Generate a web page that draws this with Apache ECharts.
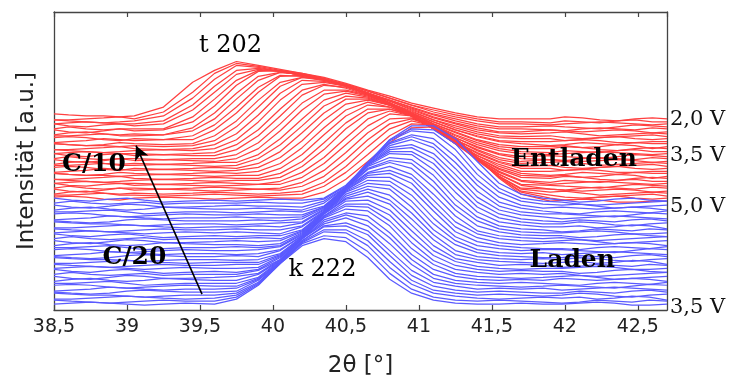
<!DOCTYPE html>
<html>
<head>
<meta charset="utf-8">
<script src="https://cdn.jsdelivr.net/npm/echarts@6/dist/echarts.min.js"></script>
<style>
  html, body { margin: 0; padding: 0; background: #ffffff; }
  #chart { width: 731px; height: 383px; }
</style>
</head>
<body>
<div id="chart"></div>
<script>
// 2θ sampling positions of the in-situ scans
const ladenX = [38.5, 38.62, 38.75, 38.88, 39.0, 39.12, 39.25, 39.4,
                39.6, 39.75, 39.9, 40.05, 40.2, 40.35, 40.5, 40.65, 40.8, 40.95, 41.1, 41.25, 41.4, 41.55, 41.7, 41.85,
                41.98, 42.1, 42.22, 42.34, 42.46, 42.58, 42.7];
const entladenX = [38.5, 38.6, 38.72, 38.84, 38.95,
                   39.05, 39.25, 39.45, 39.6, 39.75, 39.9, 40.05, 40.2, 40.35, 40.5, 40.65, 40.8, 40.95, 41.1, 41.25, 41.4, 41.55, 41.7,
                   41.9, 42.0, 42.12, 42.24, 42.36, 42.48, 42.6, 42.7];

// Charge (Laden, C/20): 3,5 V -> 5,0 V, waterfall intensities, first scan at the bottom
const ladenScans = [
  [6,7,8,7,6,5,6,7, 6,11,25,47,65,72,69,53,31,17,10,7,6,6,7,6, 6,7,8,7,5,5,6],
  [10,9,8,7,8,9,10,9, 9,13,26,47,67,75,73,59,37,21,13,10,9,10,9,8, 7,8,10,9,8,10,9],
  [11,11,12,13,14,13,12,11, 12,15,27,48,68,79,78,65,43,26,17,14,12,11,12,13, 12,13,11,12,14,13,10],
  [17,16,15,15,14,13,14,15, 15,17,28,48,69,81,81,70,49,30,20,17,15,16,15,14, 15,17,16,14,13,15,16],
  [18,17,16,17,19,20,19,18, 18,19,30,48,70,84,85,76,55,35,24,20,18,19,18,17, 17,19,18,17,19,20,18],
  [19,20,21,23,22,21,20,21, 21,22,31,48,70,85,88,80,60,40,28,24,21,22,21,22, 20,21,22,23,22,21,20],
  [25,26,25,23,22,23,24,25, 24,24,32,49,72,87,93,85,67,46,32,27,25,24,23,24, 25,24,23,22,24,26,25],
  [27,27,28,29,27,25,26,27, 27,27,33,50,72,89,96,90,73,51,36,30,28,27,28,27, 26,25,27,28,27,26,28],
  [29,31,32,30,29,30,32,31, 30,30,36,50,72,91,98,95,78,56,41,34,31,30,31,30, 32,31,30,31,32,31,29],
  [34,32,31,33,35,34,32,32, 33,34,37,51,73,93,102,100,85,62,46,37,34,33,32,33, 34,35,33,31,32,33,34],
  [36,38,36,35,36,37,35,36, 36,36,40,51,73,94,105,104,90,68,50,41,38,36,37,36, 37,35,34,35,36,37,38],
  [41,39,38,40,41,39,37,38, 39,38,41,53,73,95,107,107,96,74,55,45,41,39,40,39, 39,37,38,40,41,39,38],
  [42,43,44,43,42,41,42,43, 42,42,43,54,73,95,110,111,101,80,60,49,44,42,41,42, 42,43,44,43,41,41,42],
  [46,45,44,43,44,45,46,45, 45,46,46,55,73,97,112,115,107,86,65,52,48,45,46,45, 43,44,46,45,44,46,45],
  [47,47,48,49,50,49,48,47, 48,48,48,56,74,97,113,119,111,92,71,56,51,49,48,47, 48,49,47,48,50,49,46],
  [53,52,51,51,50,49,50,51, 51,50,51,57,74,98,115,122,116,98,76,60,54,52,51,52, 51,53,52,50,49,51,52],
  [54,53,52,53,55,56,55,54, 54,55,54,60,75,98,117,125,122,104,81,66,58,55,54,53, 53,55,54,53,55,56,54],
  [55,56,57,59,58,57,56,57, 57,56,57,61,75,98,119,128,126,110,87,70,61,58,57,58, 56,57,58,59,58,57,56],
  [61,62,61,59,58,59,60,61, 60,60,61,64,76,98,120,131,130,116,93,74,65,62,60,61, 61,60,59,58,60,62,61],
  [63,63,64,65,63,61,62,63, 63,64,63,65,77,98,121,134,134,122,100,79,69,65,63,62, 62,61,63,64,63,62,64],
  [65,67,68,66,65,66,68,67, 66,66,65,67,78,98,121,136,138,128,105,84,73,68,66,67, 68,67,66,67,68,67,65],
  [70,68,67,69,71,70,68,68, 69,70,69,70,79,98,122,138,141,133,111,89,77,72,70,69, 70,71,69,67,68,69,70],
  [72,74,72,71,72,73,71,72, 72,72,73,72,80,99,123,139,145,137,117,95,80,75,73,72, 73,71,70,71,72,73,74],
  [77,75,74,76,77,75,73,74, 75,74,75,75,81,99,123,142,149,143,124,101,85,79,76,75, 75,73,74,76,77,75,74],
  [78,79,80,79,78,77,78,79, 78,79,78,77,84,99,123,143,151,148,130,106,90,82,79,78, 78,79,80,79,77,77,78],
  [82,81,80,79,80,81,82,81, 81,82,81,81,85,100,123,145,154,152,136,112,94,85,82,81, 79,80,82,81,80,82,81],
  [83,83,84,85,86,85,84,83, 84,84,85,84,88,101,123,146,158,157,142,119,99,89,86,84, 84,85,83,84,86,85,82],
  [89,88,87,87,86,85,86,87, 87,86,87,88,89,102,123,147,160,160,148,125,104,93,89,87, 87,89,88,86,85,87,88],
  [90,89,88,89,91,92,91,90, 90,90,91,90,92,103,123,147,162,164,153,131,109,97,92,90, 89,91,90,89,91,92,90],
  [91,92,93,95,94,93,92,93, 93,94,93,93,94,104,123,148,164,167,158,137,114,101,96,94, 92,93,94,95,94,93,92],
  [97,98,97,95,94,95,96,97, 96,96,97,96,96,104,124,149,166,172,164,143,120,105,99,97, 97,96,95,94,96,98,97],
  [99,99,100,101,99,97,98,99, 99,98,99,100,99,105,124,149,168,175,168,149,126,109,103,100, 98,97,99,100,99,98,100],
  [101,103,104,102,101,102,104,103, 102,102,103,102,101,108,124,148,169,177,173,155,131,114,106,103, 104,103,102,103,104,103,101],
  [106,104,103,105,107,106,104,104, 105,106,105,105,104,110,124,149,171,181,179,162,137,119,110,107, 106,107,105,103,104,105,106],
  [108,110,108,107,108,109,107,108, 108,108,109,108,108,112,125,148,172,183,182,168,143,123,113,110, 109,107,106,107,108,109,110],
  [113,111,110,112,113,111,109,110, 111,110,111,112,111,113,126,148,172,186,186,173,150,128,117,113, 111,109,110,112,113,111,110]
];

// Discharge (Entladen, C/10): 5,0 V -> 2,0 V, continuing the stack upwards
const entladenScans = [
  [114,115,114,112,111, 113,114,113,112,113,114,113,113,119,132,150,169,184,185,174,154,133,117, 110,111,112,111,109,109,110,110],
  [116,116,117,118,116, 116,115,116,117,116,115,116,117,125,139,157,176,188,187,174,154,134,119, 113,111,112,114,115,113,112,113],
  [117,119,120,118,117, 118,117,118,119,118,117,118,120,129,145,165,183,191,186,172,153,134,120, 116,114,113,114,115,116,117,115],
  [122,120,119,121,123, 121,122,121,120,121,122,121,125,135,152,172,188,193,186,171,152,135,122, 119,120,118,116,117,118,119,118],
  [123,125,123,122,123, 123,122,123,124,123,122,123,129,141,159,179,193,194,185,170,151,135,123, 122,121,120,121,122,121,119,120],
  [128,126,125,127,128, 126,127,126,125,126,127,127,134,148,167,186,198,196,186,170,152,137,126, 122,121,123,124,123,122,124,123],
  [128,129,130,129,128, 128,127,128,129,128,127,130,139,154,174,193,201,196,185,168,152,137,127, 126,125,124,123,125,127,126,125],
  [132,131,130,129,130, 131,132,131,130,131,131,134,145,162,183,199,203,197,185,169,153,139,130, 127,128,129,130,129,128,127,128],
  [132,132,133,134,135, 133,132,133,134,133,133,138,150,169,189,203,203,196,183,168,153,140,131, 129,131,130,129,131,132,130,130],
  [138,137,136,136,135, 136,137,136,135,136,136,143,157,177,196,207,205,196,183,168,154,142,134, 133,135,134,132,131,133,134,133],
  [138,137,136,137,139, 138,137,138,139,138,140,148,164,184,202,210,205,196,183,168,154,143,136, 135,136,134,135,137,136,133,135],
  [139,140,141,143,142, 141,142,141,140,141,144,154,171,192,208,212,207,197,183,169,156,145,138, 136,137,139,138,137,139,138,138],
  [144,145,144,142,141, 143,142,143,144,143,148,160,179,199,213,213,207,196,183,169,156,147,140, 140,141,142,141,139,139,140,140],
  [146,146,147,148,146, 146,147,146,145,146,153,167,186,206,216,214,207,196,183,170,158,149,143, 143,141,142,144,145,143,142,143],
  [147,149,150,148,147, 148,147,148,149,149,157,173,193,212,219,215,207,196,183,170,159,150,145, 146,144,143,144,145,146,147,145],
  [152,150,149,151,153, 151,152,151,150,153,163,181,202,218,221,216,208,197,184,172,161,152,148, 149,150,148,146,147,148,149,148],
  [153,155,153,152,153, 153,152,153,153,157,169,188,209,222,222,217,208,196,184,172,162,154,150, 152,151,150,151,152,151,149,150],
  [158,156,155,157,158, 156,157,156,156,162,176,196,217,227,225,218,209,197,185,174,164,157,153, 152,151,153,154,153,152,154,153],
  [158,159,160,159,158, 158,157,158,159,167,182,203,222,228,224,217,208,196,185,174,165,158,155, 156,155,154,153,155,157,156,155],
  [162,161,160,159,160, 161,162,161,163,172,190,212,228,230,226,219,209,197,186,176,167,161,158, 157,158,159,160,159,158,157,158],
  [162,162,163,164,165, 163,162,163,167,178,197,219,232,231,226,219,209,198,187,177,169,163,160, 159,161,160,159,161,162,160,160],
  [168,167,166,166,165, 166,165,166,171,185,205,226,235,233,227,219,209,199,188,179,171,165,163, 163,165,164,162,161,163,164,163],
  [168,167,166,167,169, 168,167,168,176,191,212,230,235,232,227,218,209,198,188,180,172,167,165, 165,166,164,165,167,166,163,165],
  [169,170,171,173,172, 171,172,172,182,199,220,236,237,233,227,219,209,199,190,182,175,170,168, 166,167,169,168,167,169,168,168],
  [174,175,174,172,171, 173,172,176,187,205,225,237,236,232,226,218,208,199,190,182,176,171,170, 170,171,172,171,169,169,170,170],
  [176,176,177,178,176, 176,177,181,193,213,232,240,238,233,227,218,209,200,192,184,178,174,173, 173,171,172,174,175,173,172,173],
  [177,179,180,178,177, 178,177,184,199,219,236,240,238,233,226,218,209,201,192,186,180,176,175, 176,174,173,174,175,176,177,175],
  [182,180,179,181,183, 181,182,190,206,227,241,242,239,234,227,219,211,202,194,188,182,179,178, 179,180,178,176,177,178,179,178],
  [183,185,183,182,183, 183,183,195,213,232,242,241,237,233,227,219,211,203,195,189,184,180,180, 182,181,180,181,182,181,179,180],
  [188,186,185,187,188, 186,188,202,220,238,243,241,237,233,227,219,212,204,197,191,186,183,183, 182,181,183,184,183,182,184,183],
  [188,189,190,189,188, 188,191,207,226,242,244,241,237,233,227,219,212,205,198,193,188,185,185, 186,185,184,183,185,187,186,185],
  [192,191,190,189,190, 191,196,214,233,247,245,241,238,233,228,221,214,207,200,195,191,188,188, 187,188,189,190,189,188,187,188],
  [192,192,193,194,195, 193,200,220,239,249,246,242,238,234,228,221,214,207,202,197,193,190,190, 189,191,190,189,191,192,190,190],
  [198,197,196,196,195, 196,205,230,242,251,247,243,239,235,229,222,216,209,204,199,195,193,193, 193,195,194,192,191,193,194,193]
];

// Cell voltage marks on the right-hand axis (intensity level, text)
const voltageLevels = [192, 156, 104, 2];
const voltageTexts = ['2,0 V', '3,5 V', '5,0 V', '3,5 V'];

// Reflection and phase annotations: [2θ, intensity, text, bold]
const annotations = [
  [39.709, 266.5, 't 202', false],
  [40.339, 40.5, 'k 222', false],
  [42.062, 152.5, 'Entladen', true],
  [42.051, 50.5, 'Laden', true],
  [38.774, 147, 'C/10', true],
  [39.051, 53, 'C/20', true]
];

// Time arrow through the scan stack: [start, end] in [2θ, intensity]
const timeArrow = [[39.514, 16], [39.062, 166]];

const xMin = 38.5, xMax = 42.7, xStep = 0.5;
const yMin = 0, yMax = 301;

const RED = '#ff4040';
const BLUE = '#5a5aff';
const AXIS = '#444444';

function scanSeries(rows, xs, color, prefix) {
  return rows.map((row, i) => ({
    type: 'line',
    name: prefix + i,
    data: xs.map((x, k) => [x, row[k]]),
    symbol: 'none',
    silent: true,
    animation: false,
    lineStyle: { color: color, width: 1.25 },
    z: 2
  }));
}

const commaFmt = v => String(+(+v).toFixed(2)).replace('.', ',');

const chart = echarts.init(document.getElementById('chart'), null, { renderer: 'canvas' });

chart.setOption({
  animation: false,
  backgroundColor: '#ffffff',
  grid: { left: 54, right: 64, top: 12, bottom: 70, containLabel: false },
  xAxis: [
    {
      type: 'value', position: 'bottom', min: xMin, max: xMax, interval: xStep,
      name: '2θ [°]', nameLocation: 'middle', nameGap: 45,
      nameTextStyle: { fontFamily: 'DejaVu Sans', fontSize: 23, color: '#222' },
      axisLine: { show: true, onZero: false, lineStyle: { color: AXIS, width: 1.3 } },
      axisTick: { show: true, inside: true, length: 5, lineStyle: { color: AXIS, width: 1.2 } },
      axisLabel: { show: true, margin: 8, fontFamily: 'DejaVu Sans', fontSize: 19, color: '#222',
                   formatter: commaFmt, showMaxLabel: false },
      splitLine: { show: false }
    },
    {
      type: 'value', position: 'top', min: xMin, max: xMax, interval: xStep,
      axisLine: { show: true, onZero: false, lineStyle: { color: AXIS, width: 1.3 } },
      axisTick: { show: true, inside: true, length: 5, lineStyle: { color: AXIS, width: 1.2 } },
      axisLabel: { show: false },
      splitLine: { show: false }
    }
  ],
  yAxis: [
    {
      type: 'value', position: 'left', min: yMin, max: yMax,
      name: 'Intensität [a.u.]', nameLocation: 'middle', nameGap: 15,
      nameTextStyle: { fontFamily: 'DejaVu Sans', fontSize: 23, color: '#222' },
      axisLine: { show: true, onZero: false, lineStyle: { color: AXIS, width: 1.3 } },
      axisTick: { show: false },
      axisLabel: { show: false },
      splitLine: { show: false }
    },
    {
      type: 'value', position: 'right', min: yMin, max: yMax,
      axisLine: { show: true, onZero: false, lineStyle: { color: AXIS, width: 1.3 } },
      axisTick: { show: false },
      axisLabel: {
        show: true, inside: false, margin: 3,
        customValues: voltageLevels,
        fontFamily: 'DejaVu Serif', fontSize: 21, color: '#111',
        formatter: v => {
          const i = voltageLevels.indexOf(+v);
          return i >= 0 ? voltageTexts[i] : '';
        }
      },
      splitLine: { show: false }
    }
  ],
  series: [
    ...scanSeries(entladenScans, entladenX, RED, 'entladen'),
    ...scanSeries(ladenScans, ladenX, BLUE, 'laden'),
    {
      type: 'scatter',
      name: 'annotations',
      symbolSize: 0,
      silent: true,
      animation: false,
      z: 10,
      itemStyle: { opacity: 1 },
      data: annotations.map(a => ({
        value: [a[0], a[1]],
        name: a[2],
        itemStyle: { opacity: 1 },
        label: {
          show: true,
          position: 'inside',
          formatter: '{b}',
          fontFamily: 'DejaVu Serif',
          fontSize: a[3] ? 25 : 24,
          fontWeight: a[3] ? 'bold' : 'normal',
          color: '#000',
          opacity: 1,
          textBorderWidth: 0
        }
      })),
      markLine: {
        silent: true,
        animation: false,
        symbol: ['none', 'arrow'],
        symbolSize: [11, 14],
        label: { show: false },
        lineStyle: { color: '#000', width: 1.6, type: 'solid', opacity: 1 },
        data: [[{ coord: timeArrow[0] }, { coord: timeArrow[1] }]]
      }
    }
  ]
});
</script>
</body>
</html>
